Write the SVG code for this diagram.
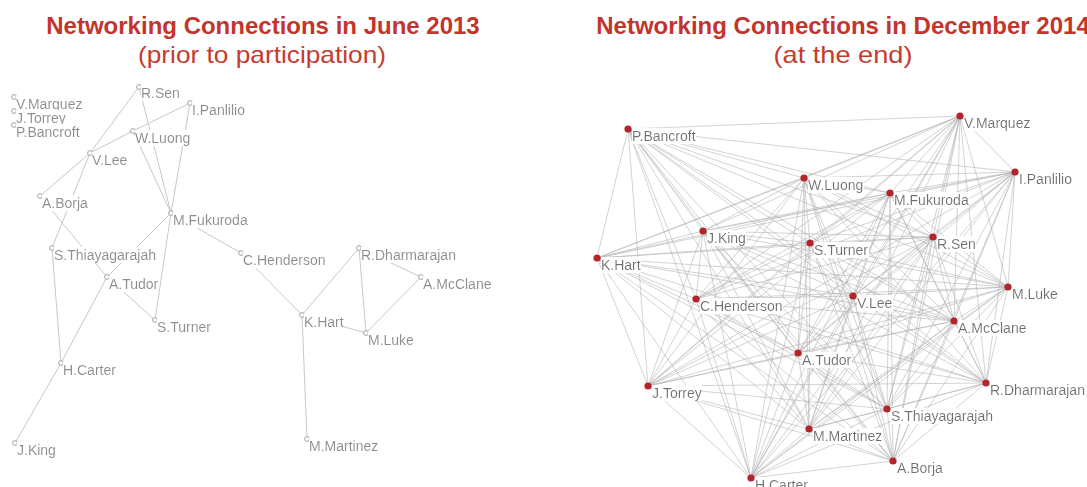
<svg xmlns="http://www.w3.org/2000/svg" width="1087" height="487" viewBox="0 0 1087 487">
<style>
.t{font-family:"Liberation Sans",Arial,sans-serif;font-weight:bold;font-size:24px;fill:#c3352c;text-anchor:middle}
.s{font-family:"Liberation Sans",Arial,sans-serif;font-size:24px;fill:#c63b30;text-anchor:middle}
.e1{stroke:#c8c8c8;stroke-width:1;fill:none}
.e2{stroke:#b0b0b0;stroke-width:0.7;fill:none;stroke-opacity:0.8}
.lc{fill:#fff;stroke:#9a9a9a;stroke-width:0.9}
.ll{font-family:"Liberation Sans",Arial,sans-serif;font-size:14px;fill:#8c8c8c;filter:url(#bg)}
.rl{font-family:"Liberation Sans",Arial,sans-serif;font-size:14px;fill:#6e6e6e;filter:url(#bg)}
.rd{fill:#b3242c}
</style>
<defs>
<filter id="bg" x="0" y="0" width="1" height="1"><feFlood flood-color="#ffffff"/><feComposite in="SourceGraphic" operator="over"/></filter>
</defs>
<rect width="1087" height="487" fill="#fff"/>
<g id="titles">
<text class="t" x="263" y="34">Networking Connections in June 2013</text>
<text class="s" x="262" y="63" textLength="248" lengthAdjust="spacingAndGlyphs">(prior to participation)</text>
<text class="t" x="843" y="34">Networking Connections in December 2014</text>
<text class="s" x="843" y="63" textLength="139" lengthAdjust="spacingAndGlyphs">(at the end)</text>
</g>
<g id="connectors-left" class="e1">
<line x1="139" y1="87" x2="90" y2="153"/>
<line x1="139" y1="87" x2="171" y2="213"/>
<line x1="190" y1="103" x2="133" y2="131"/>
<line x1="133" y1="131" x2="90" y2="153"/>
<line x1="190" y1="103" x2="171" y2="213"/>
<line x1="133" y1="131" x2="171" y2="213"/>
<line x1="90" y1="153" x2="40" y2="196"/>
<line x1="90" y1="153" x2="52" y2="248"/>
<line x1="40" y1="196" x2="107" y2="277"/>
<line x1="52" y1="248" x2="61" y2="363"/>
<line x1="107" y1="277" x2="61" y2="363"/>
<line x1="107" y1="277" x2="171" y2="213"/>
<line x1="107" y1="277" x2="155" y2="320"/>
<line x1="171" y1="213" x2="155" y2="320"/>
<line x1="171" y1="213" x2="241" y2="253"/>
<line x1="241" y1="253" x2="302" y2="315"/>
<line x1="302" y1="315" x2="359" y2="248"/>
<line x1="359" y1="248" x2="366" y2="333"/>
<line x1="359" y1="248" x2="421" y2="277"/>
<line x1="421" y1="277" x2="366" y2="333"/>
<line x1="302" y1="315" x2="366" y2="333"/>
<line x1="302" y1="315" x2="307" y2="439"/>
<line x1="61" y1="363" x2="15" y2="443"/>
</g>
<g id="connectors-right" class="e2">
<path d="M628 129L804 178M628 129L703 231M628 129L810 243M628 129L597 258M628 129L960 116M628 129L1015 172M628 129L890 193M628 129L933 237M628 129L1008 287M628 129L853 296M628 129L954 321M628 129L986 383M628 129L887 409M628 129L893 461M628 129L696 299M628 129L798 353M628 129L648 386M628 129L809 429M628 129L751 478"/>
<path d="M804 178L703 231M804 178L810 243M804 178L597 258M804 178L960 116M804 178L1015 172M804 178L890 193M804 178L933 237M804 178L1008 287M804 178L853 296M804 178L954 321M804 178L986 383M804 178L887 409M804 178L893 461M804 178L696 299M804 178L798 353M804 178L648 386M804 178L809 429M804 178L751 478"/>
<path d="M703 231L810 243M703 231L597 258M703 231L960 116M703 231L1015 172M703 231L890 193M703 231L933 237M703 231L1008 287M703 231L853 296M703 231L954 321M703 231L986 383M703 231L887 409M703 231L893 461M703 231L696 299M703 231L798 353M703 231L648 386M703 231L809 429M703 231L751 478"/>
<path d="M810 243L597 258M810 243L960 116M810 243L1015 172M810 243L890 193M810 243L933 237M810 243L1008 287M810 243L853 296M810 243L954 321M810 243L986 383M810 243L887 409M810 243L893 461M810 243L696 299M810 243L798 353M810 243L648 386M810 243L809 429M810 243L751 478"/>
<path d="M597 258L960 116M597 258L1015 172M597 258L890 193M597 258L933 237M597 258L1008 287M597 258L853 296M597 258L954 321M597 258L986 383M597 258L887 409M597 258L893 461M597 258L696 299M597 258L798 353M597 258L648 386M597 258L809 429M597 258L751 478"/>
<path d="M960 116L1015 172M960 116L890 193M960 116L933 237M960 116L1008 287M960 116L853 296M960 116L954 321M960 116L986 383M960 116L887 409M960 116L893 461M960 116L696 299M960 116L798 353M960 116L648 386M960 116L809 429M960 116L751 478"/>
<path d="M1015 172L890 193M1015 172L933 237M1015 172L1008 287M1015 172L853 296M1015 172L954 321M1015 172L986 383M1015 172L887 409M1015 172L893 461M1015 172L696 299M1015 172L798 353M1015 172L648 386M1015 172L809 429M1015 172L751 478"/>
<path d="M890 193L933 237M890 193L1008 287M890 193L853 296M890 193L954 321M890 193L986 383M890 193L887 409M890 193L893 461M890 193L696 299M890 193L798 353M890 193L648 386M890 193L809 429M890 193L751 478"/>
<path d="M933 237L1008 287M933 237L853 296M933 237L954 321M933 237L986 383M933 237L887 409M933 237L893 461M933 237L696 299M933 237L798 353M933 237L648 386M933 237L809 429M933 237L751 478"/>
<path d="M1008 287L853 296M1008 287L954 321M1008 287L986 383M1008 287L887 409M1008 287L893 461M1008 287L696 299M1008 287L798 353M1008 287L648 386M1008 287L809 429M1008 287L751 478"/>
<path d="M853 296L954 321M853 296L986 383M853 296L887 409M853 296L893 461M853 296L696 299M853 296L798 353M853 296L648 386M853 296L809 429M853 296L751 478"/>
<path d="M954 321L986 383M954 321L887 409M954 321L893 461M954 321L696 299M954 321L798 353M954 321L648 386M954 321L809 429M954 321L751 478"/>
<path d="M986 383L887 409M986 383L893 461M986 383L696 299M986 383L798 353M986 383L648 386M986 383L809 429M986 383L751 478"/>
<path d="M887 409L893 461M887 409L696 299M887 409L798 353M887 409L648 386M887 409L809 429M887 409L751 478"/>
<path d="M893 461L696 299M893 461L798 353M893 461L648 386M893 461L809 429M893 461L751 478"/>
<path d="M696 299L798 353M696 299L648 386M696 299L809 429M696 299L751 478"/>
<path d="M798 353L648 386M798 353L809 429M798 353L751 478"/>
<path d="M648 386L809 429M648 386L751 478"/>
<path d="M809 429L751 478"/>
</g>
<g id="left-nodes">
<g id="l-vmarquez"><circle class="lc" cx="14" cy="97" r="2.4"/><text class="ll" x="16" y="109">V.Marquez</text></g>
<g id="l-jtorrey"><circle class="lc" cx="14" cy="111" r="2.4"/><text class="ll" x="16" y="123">J.Torrey</text></g>
<g id="l-pbancroft"><circle class="lc" cx="14" cy="125" r="2.4"/><text class="ll" x="16" y="137">P.Bancroft</text></g>
<g id="l-rsen"><circle class="lc" cx="139" cy="87" r="2.4"/><text class="ll" x="141" y="98">R.Sen</text></g>
<g id="l-ipanlilio"><circle class="lc" cx="190" cy="103" r="2.4"/><text class="ll" x="192" y="115">I.Panlilio</text></g>
<g id="l-wluong"><circle class="lc" cx="133" cy="131" r="2.4"/><text class="ll" x="135" y="143">W.Luong</text></g>
<g id="l-vlee"><circle class="lc" cx="90" cy="153" r="2.4"/><text class="ll" x="92" y="165">V.Lee</text></g>
<g id="l-aborja"><circle class="lc" cx="40" cy="196" r="2.4"/><text class="ll" x="42" y="208">A.Borja</text></g>
<g id="l-mfukuroda"><circle class="lc" cx="171" cy="213" r="2.4"/><text class="ll" x="173" y="225">M.Fukuroda</text></g>
<g id="l-sthiayagarajah"><circle class="lc" cx="52" cy="248" r="2.4"/><text class="ll" x="54" y="260">S.Thiayagarajah</text></g>
<g id="l-chenderson"><circle class="lc" cx="241" cy="253" r="2.4"/><text class="ll" x="243" y="265">C.Henderson</text></g>
<g id="l-rdharmarajan"><circle class="lc" cx="359" cy="248" r="2.4"/><text class="ll" x="361" y="260">R.Dharmarajan</text></g>
<g id="l-atudor"><circle class="lc" cx="107" cy="277" r="2.4"/><text class="ll" x="109" y="289">A.Tudor</text></g>
<g id="l-amcclane"><circle class="lc" cx="421" cy="277" r="2.4"/><text class="ll" x="423" y="289">A.McClane</text></g>
<g id="l-khart"><circle class="lc" cx="302" cy="315" r="2.4"/><text class="ll" x="304" y="327">K.Hart</text></g>
<g id="l-sturner"><circle class="lc" cx="155" cy="320" r="2.4"/><text class="ll" x="157" y="332">S.Turner</text></g>
<g id="l-mluke"><circle class="lc" cx="366" cy="333" r="2.4"/><text class="ll" x="368" y="345">M.Luke</text></g>
<g id="l-hcarter"><circle class="lc" cx="61" cy="363" r="2.4"/><text class="ll" x="63" y="375">H.Carter</text></g>
<g id="l-jking"><circle class="lc" cx="15" cy="443" r="2.4"/><text class="ll" x="17" y="455">J.King</text></g>
<g id="l-mmartinez"><circle class="lc" cx="307" cy="439" r="2.4"/><text class="ll" x="309" y="451">M.Martinez</text></g>
</g>
<g id="right-nodes">
<g id="r-pbancroft"><text class="rl" x="632" y="141">P.Bancroft</text><circle class="rd" cx="628" cy="129" r="3.6"/></g>
<g id="r-wluong"><text class="rl" x="808" y="190">W.Luong</text><circle class="rd" cx="804" cy="178" r="3.6"/></g>
<g id="r-jking"><text class="rl" x="707" y="243">J.King</text><circle class="rd" cx="703" cy="231" r="3.6"/></g>
<g id="r-sturner"><text class="rl" x="814" y="255">S.Turner</text><circle class="rd" cx="810" cy="243" r="3.6"/></g>
<g id="r-khart"><text class="rl" x="601" y="270">K.Hart</text><circle class="rd" cx="597" cy="258" r="3.6"/></g>
<g id="r-vmarquez"><text class="rl" x="964" y="128">V.Marquez</text><circle class="rd" cx="960" cy="116" r="3.6"/></g>
<g id="r-ipanlilio"><text class="rl" x="1019" y="184">I.Panlilio</text><circle class="rd" cx="1015" cy="172" r="3.6"/></g>
<g id="r-mfukuroda"><text class="rl" x="894" y="205">M.Fukuroda</text><circle class="rd" cx="890" cy="193" r="3.6"/></g>
<g id="r-rsen"><text class="rl" x="937" y="249">R.Sen</text><circle class="rd" cx="933" cy="237" r="3.6"/></g>
<g id="r-mluke"><text class="rl" x="1012" y="299">M.Luke</text><circle class="rd" cx="1008" cy="287" r="3.6"/></g>
<g id="r-vlee"><text class="rl" x="857" y="308">V.Lee</text><circle class="rd" cx="853" cy="296" r="3.6"/></g>
<g id="r-amcclane"><text class="rl" x="958" y="333">A.McClane</text><circle class="rd" cx="954" cy="321" r="3.6"/></g>
<g id="r-rdharmarajan"><text class="rl" x="990" y="395">R.Dharmarajan</text><circle class="rd" cx="986" cy="383" r="3.6"/></g>
<g id="r-sthiayagarajah"><text class="rl" x="891" y="421">S.Thiayagarajah</text><circle class="rd" cx="887" cy="409" r="3.6"/></g>
<g id="r-aborja"><text class="rl" x="897" y="473">A.Borja</text><circle class="rd" cx="893" cy="461" r="3.6"/></g>
<g id="r-chenderson"><text class="rl" x="700" y="311">C.Henderson</text><circle class="rd" cx="696" cy="299" r="3.6"/></g>
<g id="r-atudor"><text class="rl" x="802" y="365">A.Tudor</text><circle class="rd" cx="798" cy="353" r="3.6"/></g>
<g id="r-jtorrey"><text class="rl" x="652" y="398">J.Torrey</text><circle class="rd" cx="648" cy="386" r="3.6"/></g>
<g id="r-mmartinez"><text class="rl" x="813" y="441">M.Martinez</text><circle class="rd" cx="809" cy="429" r="3.6"/></g>
<g id="r-hcarter"><text class="rl" x="755" y="490">H.Carter</text><circle class="rd" cx="751" cy="478" r="3.6"/></g>
</g>
</svg>
